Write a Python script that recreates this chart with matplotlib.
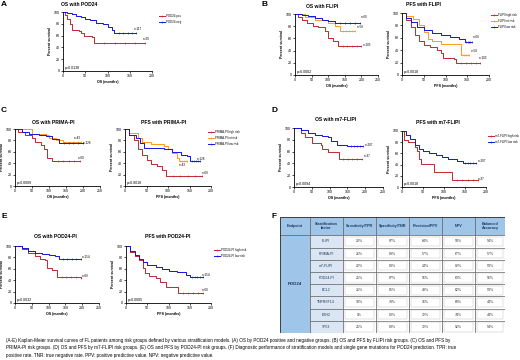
import numpy as np
import matplotlib
matplotlib.use("Agg")
import matplotlib.pyplot as plt
from matplotlib.patches import Rectangle

plt.rcParams['font.family'] = ['Liberation Sans', 'DejaVu Sans']

W, H = 520, 360
RED, BLUE, ORANGE = '#c0282d', '#1414e0', '#ff9a1a'

# ---- survival data (time in months, percent survival from that time on) ----
# A: OS with POD24
a_pos_t = [0, 5, 10, 15, 20, 35, 40, 48, 65, 70, 185]
a_pos_s = [100, 95, 88, 80, 70, 68, 64, 60, 58, 48, 48]
a_neg_t = [0, 10, 20, 30, 40, 50, 60, 75, 90, 100, 110, 115, 165]
a_neg_s = [100, 98, 96, 93, 91, 88, 86, 82, 79, 75, 70, 64, 64]

# B: FLIPI
b_os_low_t = [0, 20, 40, 60, 80, 100, 120, 195]
b_os_low_s = [100, 99, 97, 93, 90, 88, 86, 86]
b_os_int_t = [0, 30, 60, 100, 120, 135, 180]
b_os_int_s = [100, 95, 90, 85, 80, 72, 72]
b_os_high_t = [0, 10, 20, 35, 55, 70, 90, 100, 115, 130, 200]
b_os_high_s = [100, 95, 90, 85, 80, 78, 72, 60, 55, 47, 47]
b_pfs_low_t = [0, 10, 20, 35, 50, 70, 90, 110, 130, 145, 160]
b_pfs_low_s = [100, 92, 85, 78, 72, 68, 65, 62, 58, 53, 53]
b_pfs_int_t = [0, 10, 25, 40, 50, 60, 70, 90, 135, 155]
b_pfs_int_s = [100, 95, 90, 80, 70, 58, 55, 50, 33, 33]
b_pfs_high_t = [0, 10, 20, 30, 40, 50, 65, 80, 90, 95, 120, 125, 180]
b_pfs_high_s = [100, 88, 78, 65, 55, 48, 45, 40, 35, 28, 26, 20, 20]

# C: PRIMA-PI
c_os_int_t = [0, 50, 90, 100, 120, 140, 195]
c_os_int_s = [100, 92, 90, 85, 80, 78, 78]
c_os_low_t = [0, 20, 40, 70, 90, 110, 130, 200]
c_os_low_s = [100, 95, 92, 90, 88, 82, 76, 76]
c_os_high_t = [0, 10, 30, 50, 60, 75, 85, 95, 110, 190]
c_os_high_s = [100, 95, 90, 85, 78, 72, 65, 50, 44, 44]
c_pfs_low_t = [0, 10, 25, 35, 45, 90, 110, 130, 145, 150, 175]
c_pfs_low_s = [100, 90, 85, 75, 67, 65, 60, 55, 52, 43, 43]
c_pfs_int_t = [0, 10, 30, 40, 60, 90, 100, 110, 120, 125, 145]
c_pfs_int_s = [100, 93, 85, 78, 73, 70, 65, 58, 50, 43, 43]
c_pfs_high_t = [0, 10, 20, 30, 40, 50, 60, 75, 85, 95, 180]
c_pfs_high_s = [100, 90, 80, 65, 55, 45, 38, 35, 28, 18, 18]

# D: m7-FLIPI
d_os_low_t = [0, 20, 40, 60, 80, 95, 105, 120, 150, 195]
d_os_low_s = [100, 96, 92, 88, 86, 84, 78, 72, 70, 70]
d_os_high_t = [0, 20, 30, 50, 75, 80, 95, 125, 190]
d_os_high_s = [100, 92, 84, 74, 72, 65, 59, 47, 47]
d_pfs_low_t = [0, 10, 20, 30, 40, 50, 65, 80, 95, 110, 130, 145, 175]
d_pfs_low_s = [100, 92, 85, 75, 68, 65, 60, 58, 53, 50, 47, 43, 42]
d_pfs_high_t = [0, 5, 15, 30, 35, 40, 45, 75, 120, 180]
d_pfs_high_s = [100, 84, 80, 72, 65, 50, 41, 27, 13, 13]

# E: POD24-PI
e_os_low_t = [0, 20, 40, 60, 80, 100, 120, 130, 195]
e_os_low_s = [100, 97, 92, 88, 86, 84, 82, 78, 77]
e_os_high_t = [0, 20, 40, 60, 75, 90, 95, 110, 125, 195]
e_os_high_s = [100, 95, 88, 82, 78, 75, 62, 58, 45, 44]
e_pfs_low_t = [0, 10, 20, 30, 40, 50, 70, 85, 100, 120, 140, 150, 180]
e_pfs_low_s = [100, 92, 84, 78, 72, 67, 64, 60, 57, 55, 50, 46, 45]
e_pfs_high_t = [0, 10, 20, 30, 40, 45, 55, 70, 80, 95, 122, 180]
e_pfs_high_s = [100, 90, 82, 75, 62, 52, 47, 43, 37, 28, 18, 18]

# F: diagnostic performance table
table_cols = ['Endpoint', 'Stratification\nfactor', 'Sensitivity/TPR', 'Specificity/TNR',
              'Precision/PPV', 'NPV', 'Balanced\nAccuracy']
table_rows = ['FLIPI', 'PRIMA-PI', 'm7-FLIPI', 'POD24-PI', 'BCL2', 'TNFRSF14', 'EZH2', 'TP53']
sens = [22, 26, 22, 25, 21, 10, 9, 25]
spec = [87, 88, 83, 87, 85, 79, 80, 83]
prec = [64, 57, 24, 56, 48, 16, 12, 12]
npv = [50, 67, 82, 63, 62, 68, 74, 92]
bacc = [54, 57, 53, 56, 53, 44, 44, 54]

caption = ("(A-E) Kaplan-Meier survival curves of FL patients among risk groups defined by various stratification models. "
           "(A) OS by POD24 positive and negative groups. (B) OS and PFS by FLIPI risk groups. (C) OS and PFS by\n"
           "PRIMA-PI risk groups. (D) OS and PFS by m7-FLIPI risk groups. (E) OS and PFS by POD24-PI risk groups. "
           "(F) Diagnostic performance of stratification models and single gene mutations for POD24 prediction. TPR: true\n"
           "positive rate. TNR: true negative rate. PPV: positive predictive value. NPV: negative predictive value.")

fig = plt.figure(figsize=(W / 100, H / 100), dpi=100)
fig.patch.set_facecolor('white')

FS = 2.6


def km_axes(x0, ytop, x1, ybot, xmax, xlabel):
    ax = fig.add_axes([x0 / W, 1 - ybot / H, (x1 - x0) / W, (ybot - ytop) / H])
    ax.set_xlim(0, xmax)
    ax.set_ylim(0, 100)
    ax.set_xticks(np.arange(0, xmax + 1, 50))
    ax.set_yticks(np.arange(0, 101, 20))
    for s in ('top', 'right'):
        ax.spines[s].set_visible(False)
    for s in ('left', 'bottom'):
        ax.spines[s].set_linewidth(0.6)
    ax.tick_params(labelsize=FS, length=1.5, width=0.5, pad=0.8)
    ax.set_xlabel(xlabel, fontsize=FS, fontweight='bold', labelpad=1)
    ax.set_ylabel('Percent survival', fontsize=FS, fontweight='bold', labelpad=1.5)
    ax.set_facecolor('none')
    return ax


def curve(ax, t, s, color, label):
    line, = ax.step(t, s, where='post', color=color, lw=0.7, label=label, marker='|',
                    markevery=[len(t) - 1], ms=1.6, mew=0.4)
    # censor ticks along the last plateau
    cens = np.linspace(t[-2], t[-1], 6)[1:-1]
    idx = np.searchsorted(t, cens, side='right') - 1
    ax.plot(cens, np.array(s)[idx], ls='none', marker='|', ms=1.6, mew=0.4, color=color)
    return line


def panel(x0, ytop, x1, ybot, xmax, xlabel, title, title_x, title_y, series, nlabels, p):
    ax = km_axes(x0, ytop, x1, ybot, xmax, xlabel)
    lines = [curve(ax, t, s, color, lab) for (t, s, color, lab) in series]
    for (x, y, txt) in nlabels:
        ax.text(x, y, txt, fontsize=FS - 0.4, ha='left', va='center')
    ax.text(4, 5, p, fontsize=FS, ha='left', va='center')
    fig.text(title_x / W, 1 - title_y / H, title, fontsize=3.6, fontweight='bold', ha='center', va='center')
    return ax, lines


def legend(ax, lines, x, y):
    ax.legend(handles=lines, loc='upper left', bbox_to_anchor=(x / W, 1 - y / H),
              bbox_transform=fig.transFigure, frameon=False, fontsize=2.1,
              handlelength=1.8, handletextpad=0.5, labelspacing=0.55, borderpad=0)


def label(x, y, txt):
    fig.text(x / W, 1 - y / H, txt, fontsize=6, fontweight='bold', ha='left', va='center')


# A
label(1, 4, 'A')
axA, lA = panel(63, 12, 152, 71, 200, 'OS (months)', 'OS with POD24', 79, 4,
                [(a_pos_t, a_pos_s, RED, 'POD24 pos'), (a_neg_t, a_neg_s, BLUE, 'POD24 neg')],
                [(160, 71, 'n=117'), (180, 54, 'n=29')], 'p=0.0138')
legend(axA, lA, 158, 13)

# B
label(261, 4, 'B')
panel(295, 14, 378, 75, 250, 'OS (months)', 'OS with FLIPI', 322, 6,
      [(b_os_high_t, b_os_high_s, RED, 'FLIPI high risk'), (b_os_int_t, b_os_int_s, ORANGE, 'FLIPI int risk'),
       (b_os_low_t, b_os_low_s, BLUE, 'FLIPI low risk')],
      [(198, 95, 'n=60'), (185, 78, 'n=58'), (205, 50, 'n=103')], 'p=0.0002')
axB, lB = panel(402, 13, 489, 75, 200, 'PFS (months)', 'PFS with FLIPI', 423, 5,
                [(b_pfs_high_t, b_pfs_high_s, RED, 'FLIPI high risk'),
                 (b_pfs_int_t, b_pfs_int_s, ORANGE, 'FLIPI int risk'),
                 (b_pfs_low_t, b_pfs_low_s, BLUE, 'FLIPI low risk')],
                [(163, 61, 'n=60'), (158, 38, 'n=58'), (177, 27, 'n=103')], 'p=0.0018')
legend(axB, lB, 490, 12)

# C
label(1, 111, 'C')
panel(15, 129, 100, 186, 250, 'OS (months)', 'OS with PRIMA-PI', 53, 122,
      [(c_os_high_t, c_os_high_s, RED, 'PRIMA-PI high risk'), (c_os_int_t, c_os_int_s, ORANGE, 'PRIMA-PI int risk'),
       (c_os_low_t, c_os_low_s, BLUE, 'PRIMA-PI low risk')],
      [(172, 85, 'n=43'), (198, 75, 'n=128'), (185, 49, 'n=60')], 'p=0.0009')
axC, lC = panel(125, 129, 211, 186, 200, 'PFS (months)', 'PFS with PRIMA-PI', 164, 122,
                [(c_pfs_high_t, c_pfs_high_s, RED, 'PRIMA-PI high risk'),
                 (c_pfs_int_t, c_pfs_int_s, ORANGE, 'PRIMA-PI int risk'),
                 (c_pfs_low_t, c_pfs_low_s, BLUE, 'PRIMA-PI low risk')],
                [(167, 47, 'n=128'), (125, 36, 'n=43'), (178, 23, 'n=60')], 'p=0.0018')
legend(axC, lC, 207, 129)

# D
label(272, 111, 'D')
panel(294, 128, 383, 187, 250, 'OS (months)', 'OS with m7-FLIPI', 336, 120,
      [(d_os_high_t, d_os_high_s, RED, 'm7-FLIPI high risk'), (d_os_low_t, d_os_low_s, BLUE, 'm7-FLIPI low risk')],
      [(200, 71, 'n=207'), (195, 52, 'n=37')], 'p=0.0094')
axD, lD = panel(402, 131, 486, 187, 200, 'PFS (months)', 'PFS with m7-FLIPI', 438, 123,
                [(d_pfs_high_t, d_pfs_high_s, RED, 'm7-FLIPI high risk'),
                 (d_pfs_low_t, d_pfs_low_s, BLUE, 'm7-FLIPI low risk')],
                [(180, 46, 'n=207'), (181, 15, 'n=37')], 'p=0.0018')
legend(axD, lD, 487, 133)

# E
label(2, 217, 'E')
panel(15, 246, 99, 303, 250, 'OS (months)', 'OS with POD24-PI', 55, 237,
      [(e_os_high_t, e_os_high_s, RED, 'POD24-PI high risk'), (e_os_low_t, e_os_low_s, BLUE, 'POD24-PI low risk')],
      [(200, 80, 'n=154'), (200, 47, 'n=60')], 'p=0.0032')
axE, lE = panel(126, 246, 211, 303, 200, 'PFS (months)', 'PFS with POD24-PI', 168, 237,
                [(e_pfs_high_t, e_pfs_high_s, RED, 'POD24-PI high risk'),
                 (e_pfs_low_t, e_pfs_low_s, BLUE, 'POD24-PI low risk')],
                [(178, 50, 'n=154'), (178, 23, 'n=60')], 'p=0.0005')
legend(axE, lE, 213, 247)

# F table
label(271, 216, 'F')
tx0, tx1, ty0, ty1 = 280, 505, 217, 333
axT = fig.add_axes([tx0 / W, 1 - ty1 / H, (tx1 - tx0) / W, (ty1 - ty0) / H])
col_w = [0.9, 1.0, 1.0, 1.0, 1.0, 1.0, 0.9]
col_x = np.concatenate([[0], np.cumsum(col_w)])
head_h = 1.5
n = len(table_rows)
axT.set_xlim(0, col_x[-1])
axT.set_ylim(n + head_h, 0)
axT.axis('off')
HEAD, SIDE, LIGHT = '#9fc5e8', '#9fc5e8', '#dbe6f4'
for j, name in enumerate(table_cols):
    axT.add_patch(Rectangle((col_x[j], 0), col_w[j], head_h, fc=HEAD, ec='#555555', lw=0.4))
    axT.text(col_x[j] + col_w[j] / 2, head_h / 2, name, ha='center', va='center', fontsize=2.7,
             fontweight='bold', color='#1f3a5f', linespacing=1.2)
axT.add_patch(Rectangle((0, head_h), col_w[0], n, fc=SIDE, ec='#555555', lw=0.4))
axT.text(col_w[0] / 2, head_h + n / 2, 'POD24', ha='center', va='center', fontsize=3.2,
         fontweight='bold', color='#1f3a5f')
values = [sens, spec, prec, npv, bacc]
for i, rname in enumerate(table_rows):
    y = head_h + i
    axT.add_patch(Rectangle((col_x[1], y), col_w[1], 1, fc=LIGHT, ec='#555555', lw=0.4))
    axT.text(col_x[1] + col_w[1] / 2, y + 0.5, rname, ha='center', va='center', fontsize=2.5, color='#1f3a5f')
    for j, vals in enumerate(values):
        c = j + 2
        axT.add_patch(Rectangle((col_x[c], y), col_w[c], 1, fc='white', ec='#555555', lw=0.4))
        axT.add_patch(Rectangle((col_x[c] + 0.06, y + 0.12), col_w[c] - 0.12, 0.76, fc='white',
                                ec='#bbbbbb', lw=0.3))
        axT.text(col_x[c] + col_w[c] / 2, y + 0.5, f'{vals[i]}%', ha='center', va='center',
                 fontsize=2.5, color='#333333')
axT.add_patch(Rectangle((0, 0), col_x[-1], n + head_h, fc='none', ec='#333333', lw=0.6))

# caption
fig.text(6 / W, 1 - 338 / H, caption, fontsize=3.3, ha='left', va='top', linespacing=1.6)

fig.savefig('out.png', dpi=100, facecolor='white')
